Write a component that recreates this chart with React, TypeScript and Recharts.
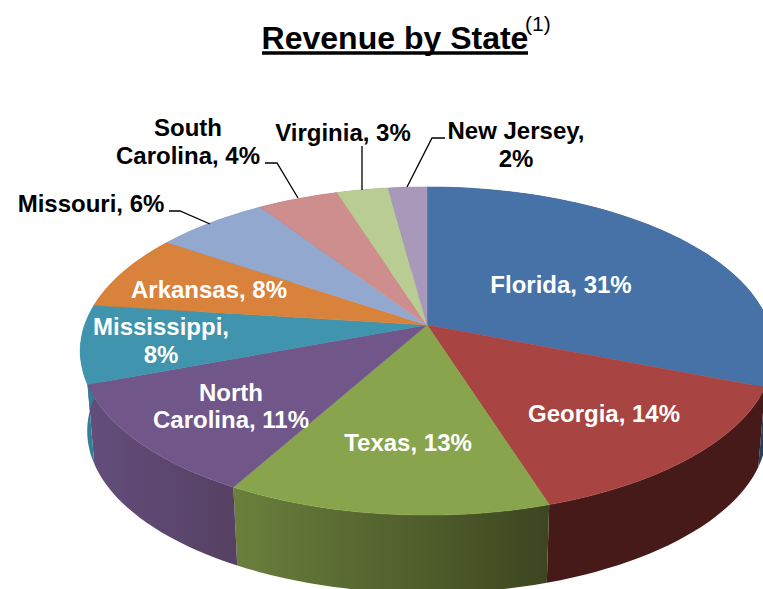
import React from 'react';
import { PieChart, Pie, Cell } from 'recharts';

const STATES = ['Florida', 'Georgia', 'Texas', 'North Carolina', 'Mississippi', 'Arkansas', 'Missouri', 'South Carolina', 'Virginia', 'New Jersey'];
const SHARES = [31, 14.1, 13, 11.2, 7.7, 7.5, 6.2, 4.4, 2.8, 2.1];
const TOP_COLORS = ['#4672a8', '#a84442', '#88a44c', '#71568a', '#4094ad', '#d8823c', '#92a8cf', '#ce8e8d', '#b9cc93', '#a898ba'];
const WALL_LEFT = ['#2c4a70', '#461b1a', '#6a7f3c', '#634d7b', '#2f8097', '#8f5520', '#5f7398', '#8c5a59', '#7c8a60', '#6f6280'];
const WALL_RIGHT = ['#24405f', '#451a19', '#3d4620', '#564163', '#2f8097', '#8f5520', '#5f7398', '#8c5a59', '#7c8a60', '#6f6280'];

const data = STATES.map((name, i) => ({ name, value: SHARES[i] }));

// text lines + leader for each label, same order as STATES
const LABELS: { x: number; ys: number[]; lines: string[]; fill: string; leader?: string }[] = [
  { x: 561, ys: [293], lines: ['Florida, 31%'], fill: '#fff' },
  { x: 604, ys: [422], lines: ['Georgia, 14%'], fill: '#fff' },
  { x: 408, ys: [451], lines: ['Texas, 13%'], fill: '#fff' },
  { x: 231, ys: [401, 428], lines: ['North', 'Carolina, 11%'], fill: '#fff' },
  { x: 161, ys: [335, 363], lines: ['Mississippi,', '8%'], fill: '#fff' },
  { x: 209, ys: [298], lines: ['Arkansas, 8%'], fill: '#fff' },
  { x: 91, ys: [212], lines: ['Missouri, 6%'], fill: '#000', leader: 'M169 211H180L210 224' },
  { x: 188, ys: [136, 164], lines: ['South', 'Carolina, 4%'], fill: '#000', leader: 'M265 163H277L298 198' },
  { x: 343, ys: [141], lines: ['Virginia, 3%'], fill: '#000', leader: 'M362 146V190' },
  { x: 516, ys: [139, 167], lines: ['New Jersey,', '2%'], fill: '#000', leader: 'M445 138H432L407 187' },
];

const FONT = '"Liberation Sans", Arial, sans-serif';
const CX = 427;
const CY = 325;
const RADIUS = 160;
const SQUASH_X = 2.14; // horizontal stretch of the tilted disc
const TILT = 0.1585; // perspective, near edge looks bigger than far edge
const RIM_MID_Y = 351; // middle of the top ellipse (apex is above it because of perspective)
const DEPTH = 80;

// project a pie angle on the tilted disc
const project = (cx: number, cy: number, r: number, deg: number) => {
  const a = (deg * Math.PI) / 180;
  const u = Math.cos(a);
  const v = Math.sin(a);
  const w = 1 + TILT * v;
  return [cx + (r * SQUASH_X * u) / w, cy - (r * v) / w];
};

const rimPoints = (p: any) => {
  const pts: number[][] = [];
  const steps = Math.max(2, Math.ceil(Math.abs(p.endAngle - p.startAngle) / 2));
  for (let i = 0; i <= steps; i++) {
    const deg = p.startAngle + ((p.endAngle - p.startAngle) * i) / steps;
    pts.push(project(p.cx, p.cy, p.outerRadius, deg));
  }
  return pts;
};

const toPath = (pts: number[][]) => 'M' + pts.map((q) => `${q[0].toFixed(1)} ${q[1].toFixed(1)}`).join('L') + 'Z';

const TopSlice = (p: any) => (
  <path d={toPath([[p.cx, p.cy], ...rimPoints(p)])} fill={p.fill} stroke={p.fill} strokeWidth={0.5} />
);

const WallSlice = (p: any) => {
  const rim = rimPoints(p);
  const lower = rim
    .map((q) => [p.cx + (q[0] - p.cx) * 0.98, RIM_MID_Y + DEPTH + (q[1] - RIM_MID_Y) * 0.988])
    .reverse();
  return <path d={toPath([...rim, ...lower])} fill={p.fill} />;
};

const renderLabel = (p: any) => {
  const l = LABELS[p.index];
  return (
    <g key={p.index}>
      {l.leader && <path d={l.leader} fill="none" stroke="#000" strokeWidth={1.3} />}
      {l.lines.map((t, i) => (
        <text key={t} x={l.x} y={l.ys[i]} textAnchor="middle" fill={l.fill} fontFamily={FONT} fontWeight={700} fontSize={24}>
          {t}
        </text>
      ))}
    </g>
  );
};

export default function App() {
  return (
    <div style={{ position: 'absolute', left: 0, top: 0, width: 763, height: 589, overflow: 'hidden', background: '#fff' }}>
      <PieChart width={763} height={589} margin={{ top: 0, right: 0, bottom: 0, left: 0 }}>
        <defs>
          {STATES.map((s, i) => (
            <linearGradient key={s} id={`wall${i}`} gradientUnits="userSpaceOnUse" x1={i === 2 ? 237 : 90} x2={i === 2 ? 546 : 237} y1={0} y2={0}>
              <stop offset="0" stopColor={WALL_LEFT[i]} />
              <stop offset="1" stopColor={WALL_RIGHT[i]} />
            </linearGradient>
          ))}
        </defs>
        <Pie
          data={data}
          dataKey="value"
          nameKey="name"
          cx={CX}
          cy={CY}
          outerRadius={RADIUS}
          startAngle={90}
          endAngle={-270}
          stroke="none"
          shape={WallSlice}
          isAnimationActive={false}
        >
          {data.map((d, i) => (
            <Cell key={d.name} fill={`url(#wall${i})`} />
          ))}
        </Pie>
        <Pie
          data={data}
          dataKey="value"
          nameKey="name"
          cx={CX}
          cy={CY}
          outerRadius={RADIUS}
          startAngle={90}
          endAngle={-270}
          stroke="none"
          shape={TopSlice}
          label={renderLabel}
          labelLine={false}
          isAnimationActive={false}
        >
          {data.map((d, i) => (
            <Cell key={d.name} fill={TOP_COLORS[i]} />
          ))}
        </Pie>
        <text x={395} y={49} textAnchor="middle" fontFamily={FONT} fontWeight={700} fontSize={32} fill="#000">
          Revenue by State
        </text>
        <line x1={262} x2={528} y1={53} y2={53} stroke="#000" strokeWidth={3.5} />
        <text x={525} y={31} fontFamily={FONT} fontSize={21} fill="#000">
          (1)
        </text>
      </PieChart>
    </div>
  );
}
